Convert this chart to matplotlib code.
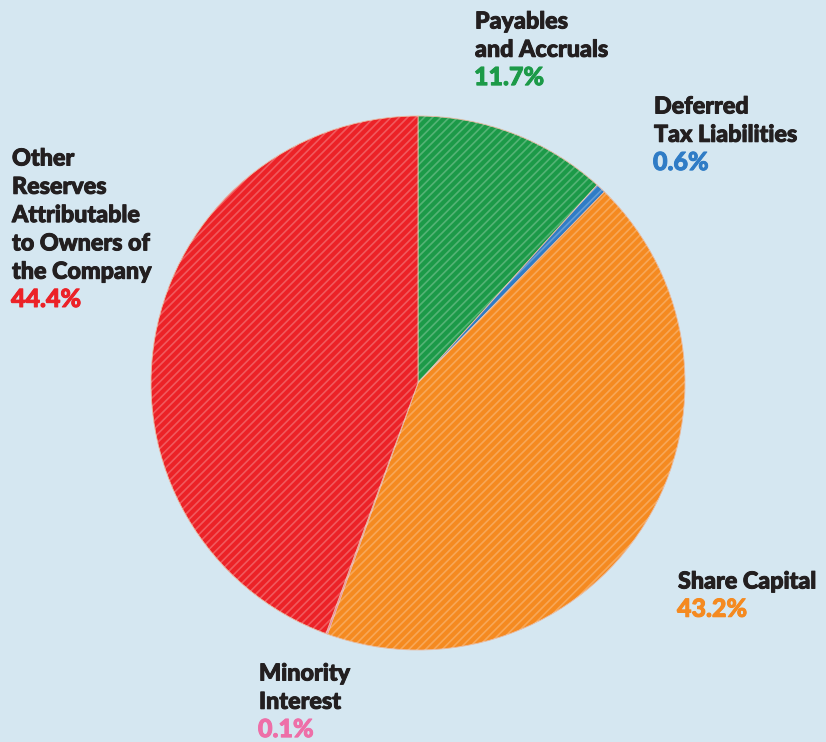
import matplotlib
matplotlib.use("Agg")
import matplotlib.pyplot as plt
import matplotlib.patheffects as pe

categories = ["Payables\nand Accruals", "Deferred\nTax Liabilities", "Share Capital",
              "Minority\nInterest", "Other\nReserves\nAttributable\nto Owners of\nthe Company"]
values = [11.7, 0.6, 43.2, 0.1, 44.4]
pct_labels = ["11.7%", "0.6%", "43.2%", "0.1%", "44.4%"]
colors = ["#1c9a48", "#2f7cc6", "#f58a20", "#ee6fa8", "#ec2227"]
text_colors = ["#1c9a48", "#2f7cc6", "#f58a20", "#ee6fa8", "#ec2227"]

W, H = 826, 742
fig = plt.figure(figsize=(W / 100, H / 100), dpi=100)
fig.patch.set_facecolor("#d5e7f1")
ax = fig.add_axes([0, 0, 1, 1])
ax.set_xlim(0, W)
ax.set_ylim(0, H)
ax.set_aspect("equal")
ax.axis("off")

center = (418, H - 383)
radius = 267
wedges, _ = ax.pie(values, colors=colors, startangle=90, counterclock=False,
                   center=center, radius=radius,
                   wedgeprops=dict(linewidth=0.6, edgecolor="#e8b9a0"))
plt.rcParams["hatch.linewidth"] = 1.2
w2, _ = ax.pie(values, colors=["none"] * 5, startangle=90, counterclock=False,
               center=center, radius=radius,
               wedgeprops=dict(linewidth=0, edgecolor=(1, 1, 1, 0.25), hatch="////"))
ax.set_xlim(0, W)
ax.set_ylim(0, H)

# label anchor (x, first line center y in px), line step px
anchors = [(475, 22), (654, 107), (678, 582), (259, 674), (12, 159)]
step = 28.3
font = ["Lato", "DejaVu Sans"]
for cat, pct, col, (x, y0) in zip(categories, pct_labels, text_colors, anchors):
    lines = cat.split("\n")
    for i, ln in enumerate(lines):
        ax.text(x, H - (y0 + i * step), ln, fontsize=16.8, fontweight=900,
                color="#231f20", ha="left", va="center", family=font,
                path_effects=[pe.withStroke(linewidth=0.7, foreground="#231f20")])
    ax.text(x - 1, H - (y0 + len(lines) * step - 1), pct, fontsize=18, fontweight=900,
            color=col, ha="left", va="center", family=font,
            path_effects=[pe.withStroke(linewidth=0.7, foreground=col)])

fig.savefig("out.png", dpi=100, facecolor=fig.get_facecolor())
